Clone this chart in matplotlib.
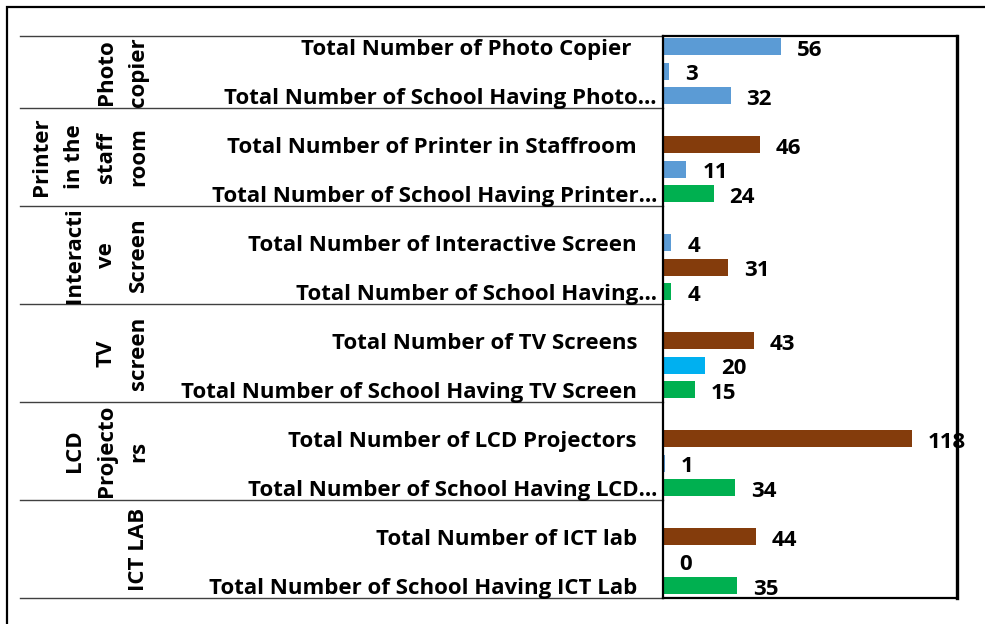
import matplotlib.pyplot as plt
import matplotlib.transforms as mtransforms
from matplotlib.patches import Rectangle

# groups listed top to bottom, three bars per group
groups = ["Photo\ncopier", "Printer\nin the\nstaff\nroom", "Interacti\nve\nScreen",
          "TV\nscreen", "LCD\nProjecto\nrs", "ICT LAB"]
top_labels = ["Total Number of Photo Copier ", "Total Number of Printer in Staffroom",
              "Total Number of Interactive Screen", "Total Number of TV Screens",
              "Total Number of LCD Projectors", "Total Number of ICT lab"]
bottom_labels = ["Total Number of School Having Photo\u2026",
                 "Total Number of School Having Printer\u2026",
                 "Total Number of School Having\u2026",
                 "Total Number of School Having TV Screen",
                 "Total Number of School Having LCD\u2026",
                 "Total Number of School Having ICT Lab"]
values = [[56, 3, 32], [46, 11, 24], [4, 31, 4], [43, 20, 15], [118, 1, 34], [44, 0, 35]]

BLUE, BROWN, GREEN, CYAN = "#5B9BD5", "#843C0C", "#00B050", "#00B0F0"
bar_colors = [[BLUE, BLUE, BLUE], [BROWN, BLUE, GREEN], [BLUE, BROWN, GREEN],
              [BROWN, CYAN, GREEN], [BROWN, BLUE, GREEN], [BROWN, BLUE, GREEN]]

plt.rcParams['font.family'] = ['Open Sans', 'DejaVu Sans']
plt.rcParams['font.weight'] = 'bold'

W, H = 985, 624
fig = plt.figure(figsize=(W / 100, H / 100), dpi=100)
ax = fig.add_axes([663 / W, 1 - 598 / H, (957 - 663) / W, (598 - 36) / H])

n = len(groups)
y_top = 4 * n - 1.06
for g in range(n):
    base = 4 * (n - 1 - g)
    for k in range(3):
        y = base + 2.5 - k
        v = values[g][k]
        ax.barh(y, v, height=0.68, color=bar_colors[g][k])
        ax.annotate(str(v), (v, y), xytext=(11.5, -2.5), textcoords="offset points",
                    ha="left", va="center", fontsize=16, fontweight="bold")

ax.set_xlim(0, 139.3)
ax.set_ylim(0, y_top)
ax.set_xticks([])
ax.set_yticks([])
for side in ax.spines:
    ax.spines[side].set_linewidth(1.6)
ax.spines["right"].set_linewidth(2.4)

# category labels, group labels and separators on the left
trans = mtransforms.blended_transform_factory(fig.transFigure, ax.transData)
for g in range(n):
    base = 4 * (n - 1 - g)
    for lab, y in ((top_labels[g], base + 2.5), (bottom_labels[g], base + 0.5)):
        x = 657 if lab.endswith("\u2026") else 637
        ax.text(x / W, y - 0.1, lab, transform=trans, ha="right", va="center", fontsize=16)
    top = min(base + 4, y_top)
    ax.text(149 / W, (base + top) / 2, groups[g], transform=trans, rotation=90,
            ha="right", va="center", multialignment="center", fontsize=16,
            linespacing=1.7)
    ax.plot([20 / W, 663 / W], [top, top], transform=trans, color="#404040",
            lw=1.0, clip_on=False)
ax.plot([20 / W, 663 / W], [0, 0], transform=trans, color="#404040", lw=1.0, clip_on=False)

# outer chart border
fig.add_artist(Rectangle((7 / W, -0.1), 1.2, 1.1 - 7 / H, transform=fig.transFigure,
                         fill=False, edgecolor="black", lw=1.6))

fig.savefig("out.png", dpi=100)
